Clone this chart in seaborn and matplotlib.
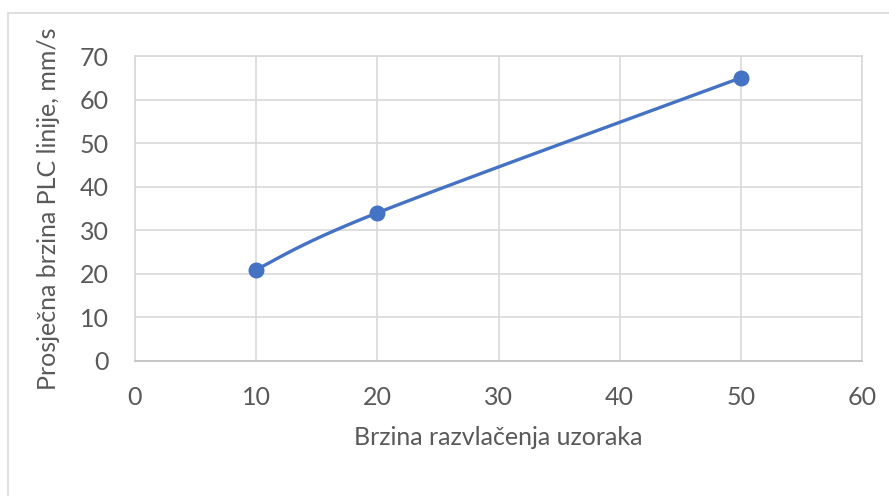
import numpy as np
import pandas as pd
import matplotlib
matplotlib.use("Agg")
import matplotlib.pyplot as plt
import seaborn as sns
from matplotlib.patches import Rectangle

# Data
brzina_razvlacenja = [10, 20, 50]
prosjecna_brzina = [21, 34, 65]
x_ticks = [0, 10, 20, 30, 40, 50, 60]
y_ticks = [0, 10, 20, 30, 40, 50, 60, 70]
x_label = "Brzina razvlačenja uzoraka"
y_label = "Prosječna brzina PLC linije, mm/s"

sns.set_theme(style="white")
plt.rcParams["font.family"] = ["Lato", "DejaVu Sans"]

TEXT = "#595959"
GRID = "#D9D9D9"
BLUE = "#4472C4"

fig = plt.figure(figsize=(8.89, 4.96), dpi=100)
ax = fig.add_axes([135 / 889, 1 - 361 / 496, 727 / 889, 305 / 496])

# Outer chart frame
fig.patches.append(Rectangle((8 / 889, -0.1), 1.2, 1 - 13 / 496 + 0.1,
                             transform=fig.transFigure, fill=False,
                             edgecolor="#D9D9D9", linewidth=1.2, zorder=0))


def smooth_curve(xs, ys, sx, sy, n=60):
    """Cardinal Bezier smoothing through the points (computed in screen-like units)."""
    p = np.column_stack([np.asarray(xs, float) * sx, np.asarray(ys, float) * sy])
    out = []
    for i in range(len(p) - 1):
        p0 = p[i - 1] if i > 0 else p[i]
        p1, p2 = p[i], p[i + 1]
        p3 = p[i + 2] if i + 2 < len(p) else p[i + 1]
        c1 = p1 + (p2 - p0) / 6
        c2 = p2 - (p3 - p1) / 6
        t = np.linspace(0, 1, n)[:, None]
        seg = ((1 - t) ** 3) * p1 + 3 * ((1 - t) ** 2) * t * c1 + 3 * (1 - t) * t ** 2 * c2 + t ** 3 * p2
        out.append(seg if i == 0 else seg[1:])
    out = np.vstack(out)
    return out[:, 0] / sx, out[:, 1] / sy


sx, sy = 727 / 60, 305 / 70
cx, cy = smooth_curve(brzina_razvlacenja, prosjecna_brzina, sx, sy)
curve = pd.DataFrame({"x": cx, "y": cy})
pts = pd.DataFrame({"x": brzina_razvlacenja, "y": prosjecna_brzina})

sns.lineplot(data=curve, x="x", y="y", ax=ax, color=BLUE, linewidth=2.4,
             sort=False, estimator=None, zorder=3)
ax.plot(pts["x"], pts["y"], linestyle="none", marker="o", markersize=10.5,
        color=BLUE, markeredgecolor=BLUE, zorder=4)

ax.set_xlim(0, 60)
ax.set_ylim(0, 70)
ax.set_xticks(x_ticks)
ax.set_yticks(y_ticks)
ax.set_xticklabels([str(v) for v in x_ticks])
ax.set_yticklabels([str(v) for v in y_ticks])
ax.grid(True, color=GRID, linewidth=1.2)
ax.set_axisbelow(True)
for s in ax.spines.values():
    s.set_color(GRID)
    s.set_linewidth(1.2)
ax.spines["bottom"].set_color("#BFBFBF")

FS = 18
ax.tick_params(axis="both", length=0, labelsize=FS, colors=TEXT)
ax.tick_params(axis="x", pad=18)
ax.tick_params(axis="y", pad=19)

ax.set_xlabel(x_label, fontsize=FS, color=TEXT, labelpad=12)
ax.set_ylabel(y_label, fontsize=FS, color=TEXT, labelpad=14)

fig.savefig("out.png", dpi=100, facecolor="white")
